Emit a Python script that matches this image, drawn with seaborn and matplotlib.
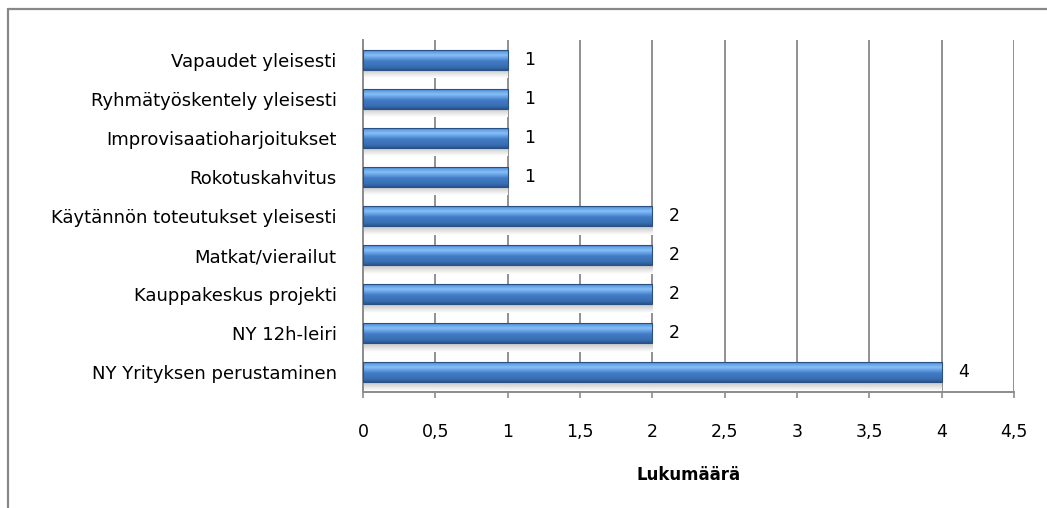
import matplotlib
matplotlib.use("Agg")
import matplotlib.pyplot as plt
import seaborn as sns
import numpy as np
import pandas as pd
from matplotlib.colors import LinearSegmentedColormap
from matplotlib.lines import Line2D

# data
categories = [
    "Vapaudet yleisesti",
    "Ryhmätyöskentely yleisesti",
    "Improvisaatioharjoitukset",
    "Rokotuskahvitus",
    "Käytännön toteutukset yleisesti",
    "Matkat/vierailut",
    "Kauppakeskus projekti",
    "NY 12h-leiri",
    "NY Yrityksen perustaminen",
]
counts = [1, 1, 1, 1, 2, 2, 2, 2, 4]
x_ticks = [0, 0.5, 1, 1.5, 2, 2.5, 3, 3.5, 4, 4.5]
x_tick_labels = ["0", "0,5", "1", "1,5", "2", "2,5", "3", "3,5", "4", "4,5"]

df = pd.DataFrame({"kategoria": categories, "lukumaara": counts})

sns.set_theme(style="white")
plt.rcParams["font.family"] = ["DejaVu Sans"]
plt.rcParams["text.color"] = "black"
plt.rcParams["axes.labelcolor"] = "black"
plt.rcParams["xtick.color"] = "black"
plt.rcParams["ytick.color"] = "black"

fig = plt.figure(figsize=(10.47, 5.08), dpi=100)
ax = fig.add_axes([0.3467, 0.2283, 0.6218, 0.693])

sns.barplot(data=df, x="lukumaara", y="kategoria", orient="h",
            color="#4a82c8", width=0.51, ax=ax, zorder=3)

# cylinder-like gradient for the bars
grad = LinearSegmentedColormap.from_list("bar", [
    (0.0, "#3a72be"), (0.07, "#5c9ae4"), (0.25, "#88c0f4"),
    (0.42, "#5e9ae0"), (0.55, "#437cc6"), (0.85, "#386eb2"), (1.0, "#2a568f")])
shadow = LinearSegmentedColormap.from_list("shadow", ["#c4c4c4", "#ffffff"])
g = np.linspace(0, 1, 64).reshape(-1, 1)
for p in list(ax.patches):
    x0, y0 = p.get_x(), p.get_y()
    w, h = p.get_width(), p.get_height()
    # soft shadow under the bar
    ax.imshow(np.linspace(0.0, 1.0, 32).reshape(-1, 1), cmap=shadow,
              extent=[x0, x0 + w, y0 + h + 0.22, y0 + h], aspect="auto", zorder=2)
    im = ax.imshow(g, cmap=grad, extent=[x0, x0 + w, y0 + h, y0],
                   aspect="auto", zorder=4)
    im.set_clip_path(p)
    p.set_edgecolor("#2a4f82")
    p.set_linewidth(0.8)
    p.set_zorder(5)
    p.set_facecolor("none")

ax.bar_label(ax.containers[0], labels=[str(c) for c in counts], padding=12,
             fontsize=12.5, color="black")

ax.set_xlim(0, 4.5)
ax.set_ylim(len(categories) - 0.5, -0.5)
ax.set_xticks(x_ticks)
ax.set_xticklabels(x_tick_labels, fontsize=12.5)
ax.tick_params(axis="x", length=4.5, width=1.2, color="#8c8c8c", pad=18, bottom=True)
ax.tick_params(axis="y", length=0, pad=19, labelsize=13)
ax.grid(axis="x", color="#919191", linewidth=1.4, zorder=0)
ax.grid(axis="y", visible=False)
ax.set_axisbelow(True)
ax.set_ylabel("")
ax.set_xlabel("Lukumäärä", fontsize=12, fontweight="bold", labelpad=18)

for side in ["top", "right"]:
    ax.spines[side].set_visible(False)
for side in ["left", "bottom"]:
    ax.spines[side].set_color("#8c8c8c")
    ax.spines[side].set_linewidth(1.4)

# outer chart frame (only top and left visible in the crop)
fig.add_artist(Line2D([0.0076, 1.0], [0.982, 0.982], transform=fig.transFigure,
                      color="#888888", linewidth=1.6))
fig.add_artist(Line2D([0.0076, 0.0076], [0.0, 0.982], transform=fig.transFigure,
                      color="#888888", linewidth=1.6))

fig.savefig("out.png", dpi=100)
